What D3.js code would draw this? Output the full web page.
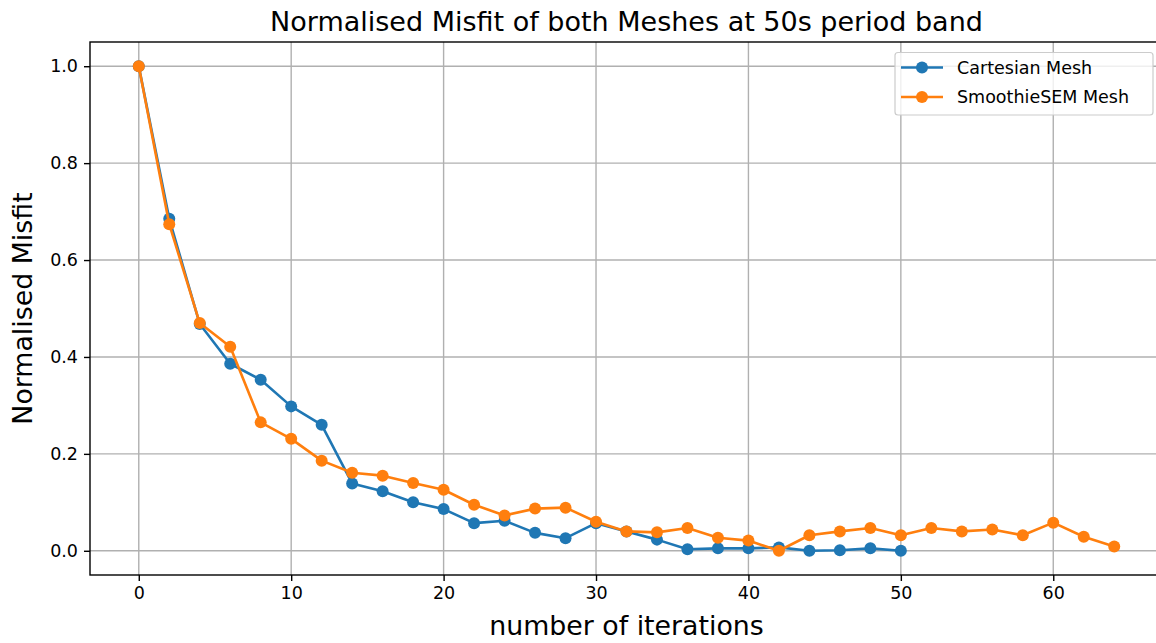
<!DOCTYPE html>
<html>
<head>
<meta charset="utf-8">
<script src="https://cdn.jsdelivr.net/npm/d3@7"></script>
<style>
  html, body { margin: 0; padding: 0; background: #fff; }
  svg { display: block; font-family: "DejaVu Sans", sans-serif; }
</style>
</head>
<body>
<svg id="chart" width="1156" height="643"></svg>
<script>
// Iteration numbers and normalised misfit for each mesh
const cartesianIter = [0,2,4,6,8,10,12,14,16,18,20,22,24,26,28,30,32,34,36,38,40,42,44,46,48,50];
const cartesianMisfit = [1.0,0.685,0.468,0.386,0.353,0.298,0.260,0.139,0.123,0.100,0.086,0.057,0.062,0.037,0.026,0.057,0.040,0.023,0.003,0.005,0.005,0.007,0.0,0.001,0.005,0.0];

const smoothieIter = [0,2,4,6,8,10,12,14,16,18,20,22,24,26,28,30,32,34,36,38,40,42,44,46,48,50,52,54,56,58,60,62,64];
const smoothieMisfit = [1.0,0.674,0.470,0.421,0.265,0.231,0.186,0.161,0.155,0.140,0.126,0.095,0.073,0.087,0.089,0.060,0.040,0.038,0.047,0.027,0.021,0.0,0.032,0.040,0.047,0.032,0.047,0.040,0.044,0.032,0.058,0.029,0.009];

const xTicks = [0,10,20,30,40,50,60];
const yTicks = [0.0,0.2,0.4,0.6,0.8,1.0];

const seriesNames = ["Cartesian Mesh", "SmoothieSEM Mesh"];
const seriesColors = ["#1f77b4", "#ff7f0e"];

const svg = d3.select("#chart");
const plot = { left: 90, right: 1163, top: 42, bottom: 575 };

const x = d3.scaleLinear().domain([-3.2, 67.2]).range([plot.left, plot.right]);
const y = d3.scaleLinear().domain([-0.05, 1.05]).range([plot.bottom, plot.top]);

// grid
const grid = svg.append("g");
grid.selectAll("line.vx").data(xTicks).join("line")
  .attr("x1", d => x(d)).attr("x2", d => x(d))
  .attr("y1", plot.top).attr("y2", plot.bottom)
  .attr("stroke", "#b0b0b0").attr("stroke-width", 1.4);
grid.selectAll("line.hy").data(yTicks).join("line")
  .attr("x1", plot.left).attr("x2", plot.right)
  .attr("y1", d => y(d)).attr("y2", d => y(d))
  .attr("stroke", "#b0b0b0").attr("stroke-width", 1.4);

// axes
const xAxis = d3.axisBottom(x).tickValues(xTicks).tickFormat(d3.format("d")).tickSize(6).tickPadding(6);
const yAxis = d3.axisLeft(y).tickValues(yTicks).tickFormat(d3.format(".1f")).tickSize(6).tickPadding(6);

const gx = svg.append("g").attr("transform", `translate(0,${plot.bottom})`).call(xAxis);
const gy = svg.append("g").attr("transform", `translate(${plot.left},0)`).call(yAxis);
[gx, gy].forEach(g => {
  g.select(".domain").remove();
  g.selectAll(".tick line").attr("stroke", "#000").attr("stroke-width", 1.4);
  g.selectAll(".tick text").attr("fill", "#000").style("font-size", "17.5px").style("font-family", "DejaVu Sans");
});

// series
const series = [
  { iter: cartesianIter, vals: cartesianMisfit },
  { iter: smoothieIter, vals: smoothieMisfit }
];
const line = d3.line().x(d => x(d[0])).y(d => y(d[1]));
series.forEach((s, i) => {
  const pts = s.iter.map((it, k) => [it, s.vals[k]]);
  const g = svg.append("g");
  g.append("path").datum(pts).attr("d", line)
    .attr("fill", "none").attr("stroke", seriesColors[i]).attr("stroke-width", 2.6)
    .attr("stroke-linejoin", "round");
  g.selectAll("circle").data(pts).join("circle")
    .attr("cx", d => x(d[0])).attr("cy", d => y(d[1])).attr("r", 6)
    .attr("fill", seriesColors[i]);
});

// frame
svg.append("rect")
  .attr("x", plot.left).attr("y", plot.top)
  .attr("width", plot.right - plot.left).attr("height", plot.bottom - plot.top)
  .attr("fill", "none").attr("stroke", "#000").attr("stroke-width", 1.4);

// title and axis labels
svg.append("text").attr("x", (plot.left + plot.right) / 2).attr("y", 31)
  .attr("text-anchor", "middle").style("font-size", "27px")
  .text("Normalised Misfit of both Meshes at 50s period band");
svg.append("text").attr("x", (plot.left + plot.right) / 2).attr("y", 635)
  .attr("text-anchor", "middle").style("font-size", "26.8px")
  .text("number of iterations");
svg.append("text").attr("transform", `translate(32,${(plot.top + plot.bottom) / 2}) rotate(-90)`)
  .attr("text-anchor", "middle").style("font-size", "26.8px")
  .text("Normalised Misfit");

// legend
const legend = svg.append("g");
legend.append("rect").attr("x", 895).attr("y", 52.5).attr("width", 258).attr("height", 62.5)
  .attr("rx", 3).attr("fill", "#fff").attr("fill-opacity", 0.8)
  .attr("stroke", "#cccccc").attr("stroke-width", 1.2);
seriesNames.forEach((name, i) => {
  const ly = 67.5 + i * 29.5;
  legend.append("line").attr("x1", 901).attr("x2", 943).attr("y1", ly).attr("y2", ly)
    .attr("stroke", seriesColors[i]).attr("stroke-width", 2.6);
  legend.append("circle").attr("cx", 922).attr("cy", ly).attr("r", 6).attr("fill", seriesColors[i]);
  legend.append("text").attr("x", 957).attr("y", ly).attr("dy", "0.36em")
    .style("font-size", "17.5px").attr("fill", "#000").text(name);
});
</script>
</body>
</html>
